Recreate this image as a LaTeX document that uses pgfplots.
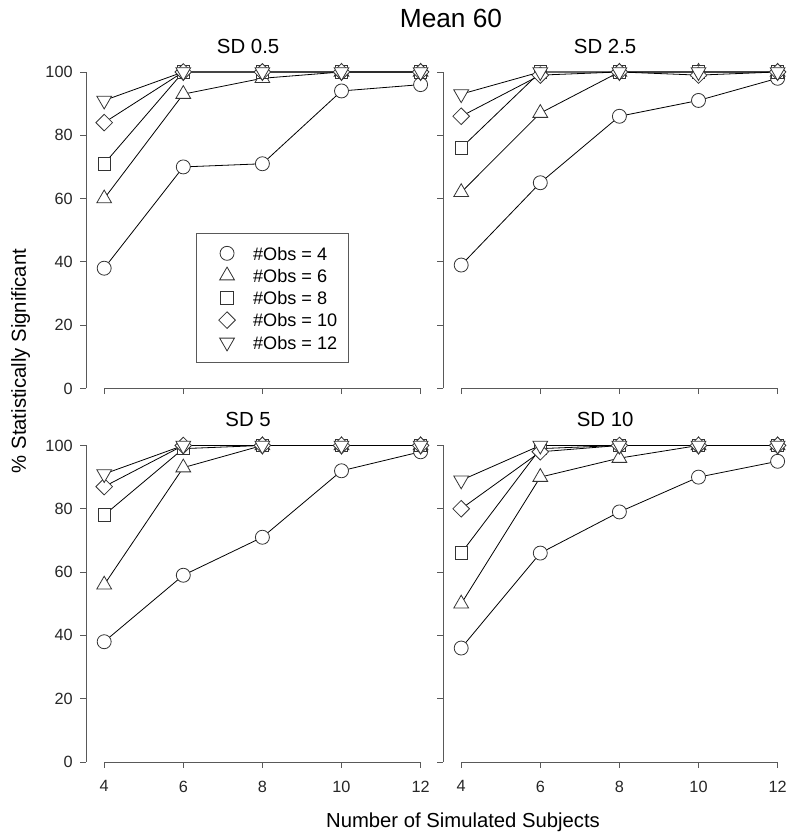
\documentclass[border=0pt]{standalone}
\usepackage{fontspec}
\setmainfont{Liberation Sans}
\usepackage{pgfplots}
\usepackage{pgfplotstable}
\pgfplotsset{compat=1.18}
\definecolor{axgray}{gray}{0.35}
\definecolor{mkgray}{gray}{0.2}

\pgfplotstableread{
x  o4  o6  o8  o10 o12
4  38  60  71  84  91
6  70  93  100 100 100
8  71  98  100 100 100
10 94  100 100 100 100
12 96  100 100 100 100
}\sdA
\pgfplotstableread{
x  o4  o6  o8  o10 o12
4  39  62  76  86  93
6  65  87  100 99  100
8  86  100 100 100 100
10 91  100 100 99  100
12 98  100 100 100 100
}\sdB
\pgfplotstableread{
x  o4  o6  o8  o10 o12
4  38  56  78  87  91
6  59  93  99  100 100
8  71  100 100 100 100
10 92  100 100 100 100
12 98  100 100 100 100
}\sdC
\pgfplotstableread{
x  o4  o6  o8  o10 o12
4  36  50  66  80  89
6  66  90  99  98  100
8  79  96  100 100 100
10 90  100 100 100 100
12 95  100 100 100 100
}\sdD

\pgfplotsset{
  panel/.style={
    scale only axis, width=264.6pt, height=237.4pt,
    xmin=3.54, xmax=12.46, ymin=0, ymax=100,
    clip=false,
    axis lines*=left, axis line style={draw=none},
    xtick={4,6,8,10,12}, ytick={0,20,40,60,80,100},
    tick align=outside, major tick length=4.2pt,
    tick style={axgray, line width=0.6pt},
    ticklabel style={font=\fontsize{12.2}{14}\selectfont, text=black!85},
    xticklabel style={yshift=-6.3pt},
    yticklabel style={xshift=-2.3pt},
    /pgf/number format/assume math mode=true,
  },
  s4/.style={black, line width=0.6pt, mark=*, mark size=5.25pt, mark options={fill=white, draw=mkgray, line width=0.6pt}},
  s6/.style={black, line width=0.6pt, mark=triangle*, mark size=6.4pt, mark options={fill=white, draw=mkgray, line width=0.6pt}},
  s8/.style={black, line width=0.6pt, mark=square*, mark size=4.7pt, mark options={fill=white, draw=mkgray, line width=0.6pt}},
  s10/.style={black, line width=0.6pt, mark=square*, mark size=4.4pt, mark options={fill=white, draw=mkgray, line width=0.6pt, rotate=45}},
  s12/.style={black, line width=0.6pt, mark=triangle*, mark size=6.4pt, mark options={fill=white, draw=mkgray, line width=0.6pt, rotate=180}},
}
\newcommand\axlines{%
  \draw[axgray, line width=0.6pt] (axis cs:3.54,0) -- (axis cs:3.54,100);
  \draw[axgray, line width=0.6pt] (axis cs:4,0) -- (axis cs:12,0);}
\newcommand\series[1]{%
  \addplot[s4] table[x=x,y=o4] {#1};
  \addplot[s6] table[x=x,y=o6] {#1};
  \addplot[s8] table[x=x,y=o8] {#1};
  \addplot[s10] table[x=x,y=o10] {#1};
  \addplot[s12] table[x=x,y=o12] {#1};}
\newcommand\ptitle[1]{\node[anchor=base, font=\fontsize{15.3}{17}\selectfont] at (axis cs:7.64,105.9) {#1};}

\begin{document}
\begin{tikzpicture}
\path[use as bounding box] (0pt,0pt) rectangle (596.25pt,629.25pt);

% top-left
\begin{axis}[panel, at={(64.5pt,337.875pt)}, anchor=south west,
  xticklabels={},
  legend cell align=left,
  legend style={at={(axis description cs:0.3118,0.4904)}, anchor=north west,
    draw=axgray, line width=0.6pt, fill=white,
    inner xsep=8.7pt, inner ysep=9.75pt, row sep=6.7pt,
    font=\fontsize{13.6}{16}\selectfont,
    nodes={inner sep=0pt, text height=10pt, text depth=0pt},
    /tikz/every odd column/.append style={column sep=13.8pt}},
  legend image code/.code={\pgfinterruptboundingbox\draw[#1, only marks] plot coordinates {(14.3pt,0pt)};\endpgfinterruptboundingbox\path[draw=none, fill=none] (0pt,-5pt) rectangle (20pt,5pt);},
]
\axlines
\series{\sdA}
\legend{\#Obs = 4, \#Obs = 6, \#Obs = 8, \#Obs = 10, \#Obs = 12}
\ptitle{SD 0.5}
\end{axis}

% top-right
\begin{axis}[panel, at={(332.25pt,337.875pt)}, anchor=south west,
  xticklabels={}, yticklabels={}]
\axlines
\series{\sdB}
\ptitle{SD 2.5}
\end{axis}

% bottom-left
\begin{axis}[panel, at={(64.5pt,57.75pt)}, anchor=south west]
\axlines
\series{\sdC}
\ptitle{SD 5}
\end{axis}

% bottom-right
\begin{axis}[panel, at={(332.25pt,57.75pt)}, anchor=south west,
  yticklabels={}]
\axlines
\series{\sdD}
\ptitle{SD 10}
\end{axis}

\node[anchor=base, font=\fontsize{19.7}{22}\selectfont] at (338.25pt,608.8pt) {Mean 60};
\node[anchor=base, font=\fontsize{15.2}{17}\selectfont] at (347.25pt,8.8pt) {Number of Simulated Subjects};
\node[anchor=base, rotate=90, font=\fontsize{15.2}{17}\selectfont] at (19.5pt,358.5pt) {\% Statistically Significant};
\end{tikzpicture}
\end{document}
